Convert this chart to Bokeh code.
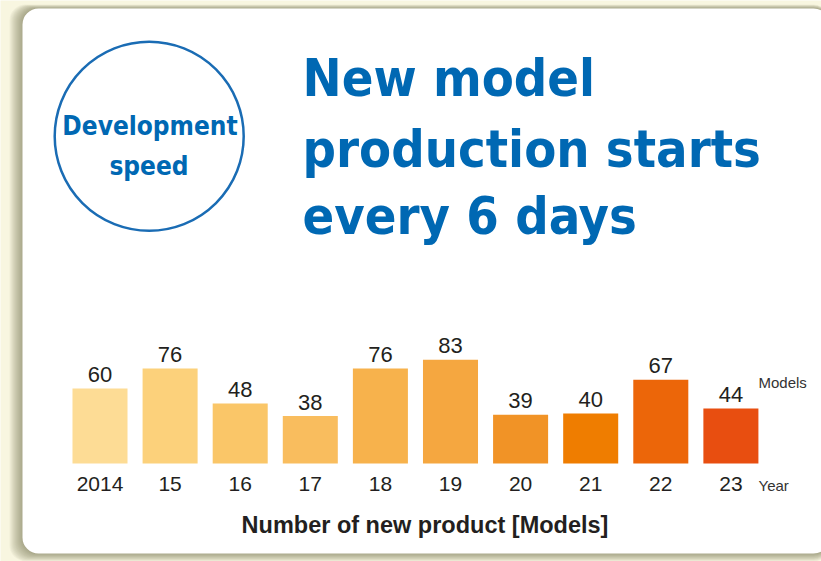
from bokeh.plotting import figure
from bokeh.models import Range1d, BoxAnnotation, ColumnDataSource
from bokeh.core.properties import value
from bokeh.embed import file_html
from bokeh.resources import INLINE

# ---- data ----
years = ["2014", "15", "16", "17", "18", "19", "20", "21", "22", "23"]
models = [60, 76, 48, 38, 76, 83, 39, 40, 67, 44]
bar_colors = ["#fddc95", "#fcd17b", "#fac668", "#f9bd5e", "#f7b24c",
              "#f5a740", "#f19326", "#ef7d00", "#ec6609", "#e84e10"]
title_lines = ["New model", "production starts", "every 6 days"]
badge_lines = ["Development", "speed"]
axis_title = "Number of new product [Models]"
unit_label = "Models"
year_label = "Year"

CREAM = "#f8f6e0"
BLUE = "#0068b3"
INK = "#231f20"
NARROW = "'DejaVu Sans Condensed', sans-serif"
SANS = "'Liberation Sans', Arial, Helvetica, sans-serif"

W, H = 821, 561
p = figure(width=W, height=H, x_range=Range1d(0, W), y_range=Range1d(H, 0),
           output_backend="svg", toolbar_location=None, min_border=0,
           x_axis_location=None, y_axis_location=None, outline_line_color=None,
           background_fill_color=CREAM, border_fill_color=CREAM)
p.grid.visible = False

# bar coordinate systems (index -> horizontal, models -> vertical)
p.extra_x_ranges = {"yr": Range1d(-1.4194, 10.2925)}
p.extra_y_ranges = {"val": Range1d(-78.4, 370.4)}

# ---- card with shadow ----
for k in range(1, 14):
    p.add_layout(BoxAnnotation(left=22 - k, right=829, top=8 - k * 0.3, bottom=553 + k * 0.6,
                               fill_color="#6f6a45", fill_alpha=0.055, line_color=None,
                               border_radius=16, level="underlay"))
p.add_layout(BoxAnnotation(left=22, right=829, top=8, bottom=553,
                           fill_color="white", fill_alpha=1.0, line_color=None,
                           border_radius=16, level="underlay"))

# ---- badge ----
p.circle(x=[148.7], y=[135.8], radius=94.5, fill_color="white",
         line_color="#1a6cb4", line_width=2.5)
p.text(x=[149.5, 148.5], y=[125, 165], text=badge_lines,
       text_align="center", text_baseline="alphabetic",
       text_font=value(NARROW), text_font_style="bold", text_font_size="26px",
       text_color=BLUE)

# ---- headline ----
p.text(x=[302, 302, 302], y=[77, 148, 215], text=title_lines,
       text_align="left", text_baseline="alphabetic",
       text_font=value(NARROW), text_font_style="bold", text_font_size="52px",
       text_color=BLUE)

# ---- bars ----
src = ColumnDataSource(dict(idx=list(range(len(years))), year=years, models=models,
                            color=bar_colors, label=[str(m) for m in models]))
p.vbar(x="idx", top="models", bottom=0, width=0.785, fill_color="color",
       line_color=None, source=src, x_range_name="yr", y_range_name="val")
p.text(x="idx", y="models", text="label", source=src, x_range_name="yr", y_range_name="val",
       text_align="center", text_baseline="alphabetic", y_offset=-14,
       text_font=value(SANS), text_font_size="22px", text_color=INK)
p.text(x="idx", y=0, text="year", source=src, x_range_name="yr", y_range_name="val",
       text_align="center", text_baseline="alphabetic", y_offset=20,
       text_font=value(SANS), text_font_size="21px", text_color=INK)

# ---- unit labels / axis title ----
p.text(x=[758, 758], y=[382, 485], text=[unit_label, year_label],
       text_align="left", text_baseline="alphabetic",
       text_font=value(SANS), text_font_size="15px", text_color="#333333")
p.text(x=[424.5], y=[524], text=[axis_title], text_align="center", text_baseline="alphabetic",
       text_font=value(SANS), text_font_style="bold", text_font_size="23.5px", text_color=INK)

open("out.html", "w").write(file_html(p, INLINE))
